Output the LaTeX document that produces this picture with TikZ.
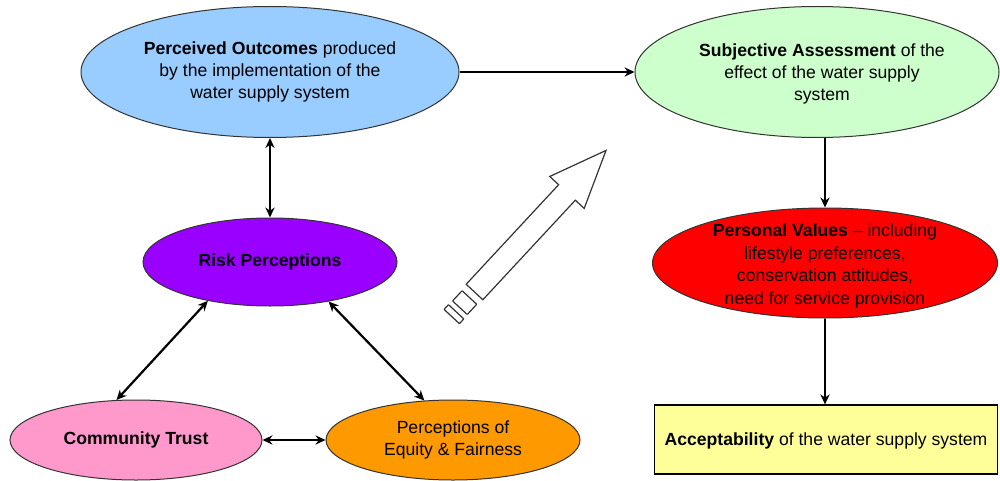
\documentclass[tikz,border=0pt]{standalone}
\usepackage{fontspec}
\setmainfont{Liberation Sans}
\usetikzlibrary{shapes.geometric,arrows.meta}
\definecolor{cblue}{HTML}{99CCFF}
\definecolor{cgreen}{HTML}{CCFFCC}
\definecolor{cpurple}{HTML}{9900FF}
\definecolor{cpink}{HTML}{FF99CC}
\definecolor{corange}{HTML}{FF9900}
\definecolor{cred}{HTML}{FF0000}
\definecolor{cyellow}{HTML}{FFFF99}
\definecolor{cline}{HTML}{333333}
\begin{document}
\begin{tikzpicture}[x=0.5pt,y=-0.5pt,
  txt/.style={font=\fontsize{8.8}{11.2}\selectfont, align=center, text=black},
  oval/.style={ellipse, draw=cline, line width=0.5pt, inner sep=0pt},
  conn/.style={line width=1.1pt, draw=black, -{Stealth[length=5pt,width=4.6pt]}},
  bconn/.style={line width=1.1pt, draw=black, {Stealth[length=5pt,width=4.6pt]}-{Stealth[length=5pt,width=4.6pt]}}
]
\useasboundingbox (0,0) rectangle (1000,481);

% nodes
\node[oval, fill=cblue, minimum width=189pt, minimum height=65.5pt] (po) at (270,72) {};
\node[txt] (pot) at (po.center) {\textbf{Perceived Outcomes} produced\\by the implementation of the\\water supply system};

\node[oval, fill=cgreen, minimum width=182pt, minimum height=65.5pt] (sa) at (817,72) {};
\node[txt] (sat) at (822,74) {\textbf{Subjective Assessment} of the\\effect of the water supply\\system};

\node[oval, fill=cpurple, minimum width=127pt, minimum height=44pt] (rp) at (270,262) {};
\node[txt] (rpt) at (rp.center) {\textbf{Risk Perceptions}};

\node[oval, fill=cpink, minimum width=126pt, minimum height=40pt] (ct) at (136,440) {};
\node[txt] (ctt) at (ct.center) {\textbf{Community Trust}};

\node[oval, fill=corange, minimum width=127pt, minimum height=40pt] (eq) at (453,440) {};
\node[txt] (eqt) at (eq.center) {Perceptions of\\Equity \& Fairness};

\node[oval, fill=cred, minimum width=172.5pt, minimum height=55pt] (pv) at (825,263) {};
\node[txt] (pvt) at (825,266) {\textbf{Personal Values} -- including\\lifestyle preferences,\\conservation attitudes,\\need for service provision};

\node[draw=black, line width=0.6pt, fill=cyellow, minimum width=171.5pt, minimum height=34.5pt, inner sep=0pt] (ac) at (826,439.5) {};
\node[txt] (act) at (826,441) {\textbf{Acceptability} of the water supply system};

% connectors
\draw[conn] (po.east) -- (sa.west);
\draw[bconn] (po.south) -- (rp.north);
\draw[conn] (pv.north |- sa.south) -- (pv.north);
\draw[conn] (pv.south) -- (pv.south |- ac.north);
\draw[bconn] (rp.212) -- (ct.116);
\draw[bconn] (rp.326) -- (eq.126);
\draw[bconn] (ct.east) -- (eq.west);

% block arrow
\begin{scope}[shift={(474.5,292)}, x={(0.340pt,0.366pt)}, y={(-0.366pt,0.340pt)}, draw=cline, line width=0.6pt, line join=miter]
  \draw (0,11.4) -- (136,11.4) -- (136,23.5) -- (193.4,0) -- (136,-23.5) -- (136,-11.4) -- (0,-11.4) -- cycle;
  \draw[rounded corners=0.3pt] (-7.5,10) -- (-21.5,10) -- (-21.5,-10) -- (-7.5,-10) -- cycle;
  \draw[rounded corners=0.3pt] (-27,10.5) -- (-33.5,10.5) -- (-33.5,-10.5) -- (-27,-10.5) -- cycle;
\end{scope}
\end{tikzpicture}
\end{document}
